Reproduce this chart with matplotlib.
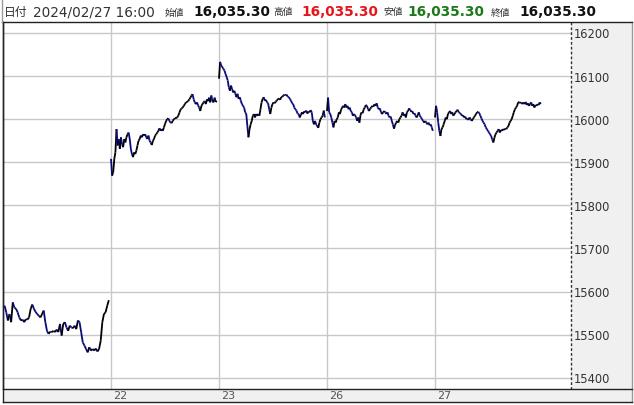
import matplotlib
matplotlib.use("Agg")
import matplotlib.pyplot as plt
from matplotlib.collections import LineCollection
from matplotlib.patches import Rectangle
from matplotlib.lines import Line2D
import numpy as np

# ---------------- data ----------------
day_labels = ["21", "22", "23", "26", "27"]
xtick_labels = ["22", "23", "26", "27"]
ytick_values = [15400, 15500, 15600, 15700, 15800, 15900, 16000, 16100, 16200]

day21 = [15563, 15567, 15552, 15533, 15548, 15529, 15575, 15563, 15560, 15552, 15540,
         15533, 15535, 15529, 15536, 15535, 15540, 15560, 15570, 15560, 15553, 15548,
         15544, 15540, 15548, 15556, 15529, 15509, 15502, 15507, 15506, 15509, 15506,
         15512, 15506, 15525, 15498, 15525, 15529, 15517, 15509, 15521, 15517, 15515,
         15521, 15513, 15533, 15529, 15506, 15482, 15475, 15467, 15459, 15471, 15463,
         15467, 15463, 15468, 15461, 15467, 15486, 15529, 15548, 15552, 15567, 15580]

day22 = [15908, 15869, 15877, 15908, 15923, 15977, 15939, 15954, 15931, 15958, 15942,
         15935, 15954, 15946, 15958, 15965, 15969, 15954, 15931, 15919, 15912, 15923,
         15919, 15927, 15939, 15950, 15954, 15962, 15958, 15965, 15962, 15965, 15958,
         15954, 15962, 15950, 15946, 15940, 15950, 15954, 15962, 15965, 15969, 15973,
         15979, 15973, 15977, 15973, 15981, 15989, 15996, 16000, 16002, 15996, 15992,
         15991, 15996, 16000, 16002, 16002, 16004, 16008, 16015, 16022, 16025, 16027,
         16031, 16035, 16039, 16040, 16042, 16046, 16050, 16055, 16058, 16046, 16039,
         16035, 16039, 16032, 16027, 16019, 16031, 16035, 16039, 16042, 16035, 16046,
         16042, 16050, 16039, 16055, 16042, 16039, 16050, 16040, 16042]

day23 = [16094, 16133, 16125, 16121, 16117, 16113, 16105, 16098, 16090, 16074, 16066,
         16078, 16070, 16062, 16066, 16059, 16051, 16059, 16047, 16051, 16043, 16035,
         16031, 16027, 16016, 16012, 15984, 15958, 15977, 15988, 15996, 16008, 16012,
         16004, 16012, 16008, 16012, 16008, 16023, 16039, 16047, 16051, 16043, 16045,
         16039, 16037, 16023, 16012, 16027, 16035, 16039, 16037, 16041, 16043, 16047,
         16048, 16045, 16051, 16052, 16055, 16057, 16055, 16057, 16052, 16051, 16047,
         16043, 16037, 16035, 16027, 16023, 16020, 16013, 16012, 16004, 16010, 16016,
         16012, 16018, 16016, 16020, 16013, 16018, 16016, 16021, 16016, 15996, 15988,
         15996, 15988, 15984, 15980, 15992, 16000, 16004, 16008, 16020, 16004]

day26 = [16019, 16050, 16016, 16012, 16004, 15992, 15981, 15996, 15992, 16000, 16004,
         16016, 16012, 16022, 16027, 16031, 16027, 16035, 16027, 16031, 16023, 16027,
         16019, 16016, 16008, 16012, 16009, 16004, 15996, 16004, 15992, 16009, 16016,
         16014, 16023, 16027, 16033, 16031, 16023, 16019, 16025, 16027, 16031, 16029,
         16035, 16031, 16037, 16027, 16023, 16025, 16016, 16012, 16016, 16019, 16016,
         16012, 16016, 16008, 16004, 16006, 15996, 15988, 15978, 15986, 15992, 15996,
         15992, 16000, 16004, 16008, 16016, 16008, 16012, 16004, 16016, 16019, 16025,
         16022, 16017, 16019, 16012, 16014, 16008, 16004, 16009, 16016, 16008, 16004,
         16000, 15996, 15992, 15996, 15992, 15988, 15992, 15986, 15988, 15981, 15973]

day27 = [16004, 16031, 16016, 15992, 15973, 15961, 15977, 15981, 15988, 15996, 16004,
         16000, 16012, 16016, 16019, 16012, 16016, 16008, 16012, 16016, 16019, 16022,
         16016, 16014, 16012, 16008, 16009, 16004, 16006, 16000, 16002, 15998, 16004,
         16000, 15996, 16000, 16004, 16008, 16012, 16016, 16017, 16014, 16008, 16002,
         15996, 15992, 15988, 15981, 15977, 15973, 15969, 15965, 15961, 15953, 15946,
         15957, 15965, 15969, 15973, 15977, 15969, 15975, 15973, 15977, 15975, 15978,
         15977, 15981, 15984, 15992, 15996, 16000, 16008, 16016, 16023, 16027, 16031,
         16039, 16040, 16037, 16039, 16035, 16039, 16035, 16040, 16033, 16037, 16031,
         16035, 16039, 16031, 16035, 16027, 16033, 16031, 16035, 16033, 16039, 16035.3]

days = [day21, day22, day23, day26, day27]

# ---------------- figure ----------------
W, H = 634, 406
fig = plt.figure(figsize=(W / 100, H / 100), dpi=100)
fig.patch.set_facecolor("white")


def fx(px):
    return px / W


def fy(py):
    return 1 - py / H


LEFT, RIGHT, TOP, BOTTOM = 3, 571, 23, 390
ax = fig.add_axes([fx(LEFT), fy(BOTTOM), fx(RIGHT - LEFT), (BOTTOM - TOP) / H])
ax.set_facecolor("white")
ax.set_xlim(0, (RIGHT - LEFT) / 108.0)
ax.set_ylim(15374, 16225.5)

# grid
for v in ytick_values:
    ax.axhline(v, color="#c8c8c8", lw=1.0, zorder=1)
for i in range(1, len(day_labels)):
    ax.axvline(i, color="#c8c8c8", lw=1.0, zorder=1)

# price line: black when rising, navy when falling
for d, vals in enumerate(days):
    vals = np.asarray(vals, dtype=float)
    n = len(vals)
    xs = d + 0.98 * np.arange(n) / (n - 1)
    pts = np.column_stack([xs, vals])
    segs = np.stack([pts[:-1], pts[1:]], axis=1)
    cols = ["#000000" if vals[k + 1] >= vals[k] else "#0a0a78" for k in range(n - 1)]
    lc = LineCollection(segs, colors=cols, linewidths=1.3, zorder=3,
                        capstyle="butt", joinstyle="miter")
    ax.add_collection(lc)

ax.set_xticks([])
ax.set_yticks([])
for s in ["top", "right"]:
    ax.spines[s].set_visible(False)
ax.spines["left"].set_color("#222222")
ax.spines["left"].set_linewidth(1.0)
ax.spines["bottom"].set_visible(False)

# right price panel
fig.patches.append(Rectangle((fx(RIGHT), fy(BOTTOM)), fx(632 - RIGHT), (BOTTOM - TOP) / H,
                             transform=fig.transFigure, facecolor="#f0f0f0",
                             edgecolor="none", zorder=0))
fig.lines.append(Line2D([fx(RIGHT), fx(RIGHT)], [fy(TOP), fy(BOTTOM)],
                        transform=fig.transFigure, color="#333333", lw=1.0,
                        linestyle=(0, (2, 1.5)), zorder=5))
fig.lines.append(Line2D([fx(632), fx(632)], [fy(TOP), fy(403)],
                        transform=fig.transFigure, color="#9a9a9a", lw=1.0, zorder=5))
for v in ytick_values:
    ypx = BOTTOM - (v - 15374) / (16225.5 - 15374) * (BOTTOM - TOP)
    fig.text(fx(574), fy(ypx + 1), f"{v}", ha="left", va="center",
             fontsize=8.3, color="#333333", family="DejaVu Sans")

# bottom date band
fig.patches.append(Rectangle((fx(LEFT), fy(403)), fx(632 - LEFT), 13 / H,
                             transform=fig.transFigure, facecolor="#f0f0f0",
                             edgecolor="none", zorder=0))
for ypx in (BOTTOM, 403):
    fig.lines.append(Line2D([fx(LEFT), fx(632)], [fy(ypx), fy(ypx)],
                            transform=fig.transFigure, color="#222222", lw=1.0, zorder=5))
fig.lines.append(Line2D([fx(LEFT), fx(LEFT)], [fy(TOP), fy(403)],
                        transform=fig.transFigure, color="#222222", lw=1.0, zorder=5))
for i, lab in enumerate(xtick_labels, start=1):
    xpx = LEFT + i * 108.0
    fig.text(fx(xpx + 2), fy(396.5), lab, ha="left", va="center",
             fontsize=8, color="#555555", family="DejaVu Sans")

# header
fig.lines.append(Line2D([fx(2), fx(632)], [fy(TOP), fy(TOP)],
                        transform=fig.transFigure, color="#222222", lw=1.0, zorder=5))
fig.lines.append(Line2D([fx(2), fx(2)], [fy(1), fy(TOP)],
                        transform=fig.transFigure, color="#9a9a9a", lw=1.0, zorder=5))
fam = ["DejaVu Sans", "Noto Sans CJK JP"]
hy = fy(12.5)
fig.text(fx(4), hy, "日付", ha="left", va="center", fontsize=8.5, color="#333333", family=fam)
fig.text(fx(33), hy, "2024/02/27 16:00", ha="left", va="center", fontsize=9.8,
         color="#333333", family=fam)
header_items = [
    (165, "始値", 193, "#111111"),
    (273, "高値", 301, "#e8141c"),
    (383, "安値", 407, "#1a7a1a"),
    (491, "終値", 519, "#111111"),
]
for lx, lab, vx, col in header_items:
    fig.text(fx(lx), hy, lab, ha="left", va="center", fontsize=7, color="#333333",
             family=fam)
    fig.text(fx(vx), hy, "16,035.30", ha="left", va="center", fontsize=9.8,
             fontweight="bold", color=col, family=fam)

fig.savefig("out.png", dpi=100, facecolor="white")
